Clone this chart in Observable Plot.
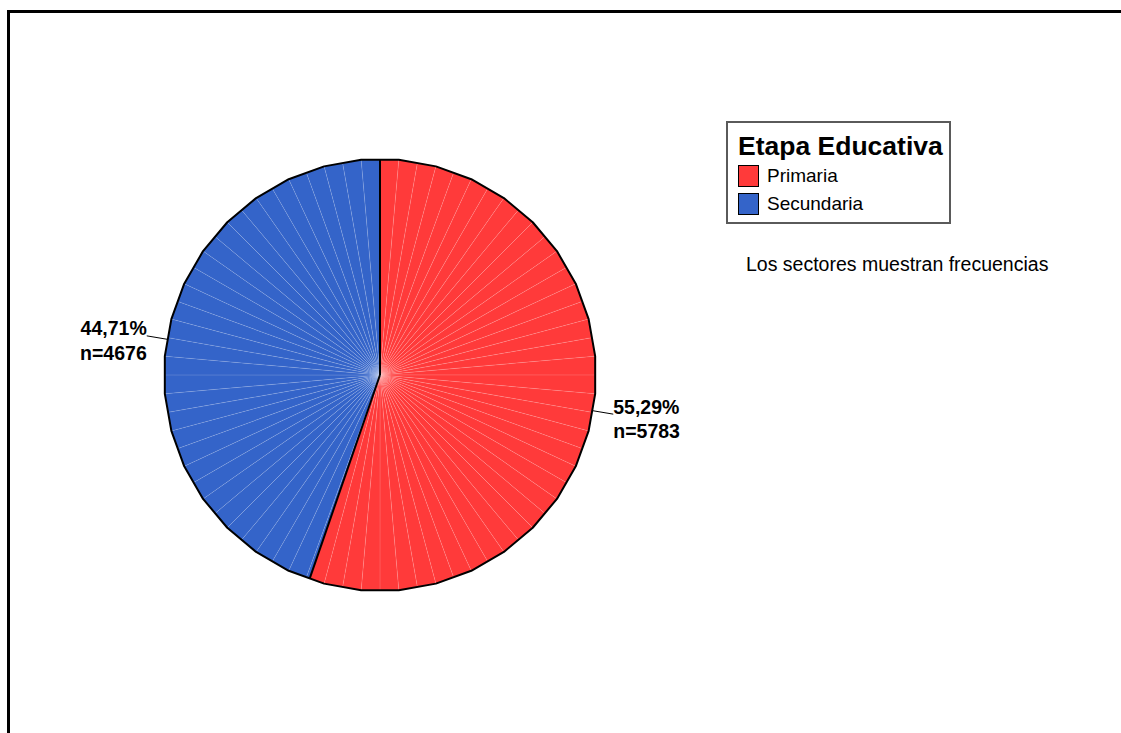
<!DOCTYPE html>
<html>
<head>
<meta charset="utf-8">
<script src="https://cdn.jsdelivr.net/npm/d3@7"></script>
<script src="https://cdn.jsdelivr.net/npm/@observablehq/plot@0.6"></script>
<style>
  html, body { margin: 0; padding: 0; background: #fff; width: 1121px; height: 733px; overflow: hidden; }
  body { position: relative; font-family: Arial, "Liberation Sans", sans-serif; }
  #chart { position: absolute; left: 0; top: 0; }
  #frame { position: absolute; left: 7px; top: 10px; width: 1300px; height: 900px;
           border-left: 3px solid #000; border-top: 3px solid #000; pointer-events: none; z-index: 3; }
  #legend { position: absolute; left: 726px; top: 121px; width: 221px; height: 99px;
            border: 2px solid #5a5a5a; background: #fff; z-index: 2; }
  #legend .title { position: absolute; left: 10px; top: 8px; font-weight: bold; font-size: 26.5px; line-height: 30px; white-space: nowrap; color: #000; }
  #legend .item { position: absolute; left: 10px; height: 23px; white-space: nowrap; }
  #legend .sw { position: absolute; left: 0; top: 0; width: 19px; height: 20px; border: 1.5px solid #000; }
  #legend .lbl { position: absolute; left: 29px; top: -1px; font-size: 19px; line-height: 23px; color: #000; }
  #note { position: absolute; left: 746px; top: 253px; font-size: 19.5px; line-height: 22px; white-space: nowrap; color: #000; z-index: 2; }
</style>
</head>
<body>
<div id="chart"></div>
<div id="legend"></div>
<div id="note"></div>
<div id="frame"></div>
<script>
// ---- data ----
const categories = ["Primaria", "Secundaria"];
const counts = [5783, 4676];
const percentLabels = ["55,29%", "44,71%"];
const colors = ["#ff3a3a", "#3464c9"];
const legendTitle = "Etapa Educativa";
const noteText = "Los sectores muestran frecuencias";

// ---- geometry (derived from data) ----
const total = d3.sum(counts);
const rad = d => d * Math.PI / 180;
// faceted (polygonal) pie outline: vertices every 10 degrees starting at 5 degrees
function polyR(deg) {
  const d = deg - 10 * Math.round(deg / 10);
  return Math.cos(rad(5)) / Math.cos(rad(d));
}
function pt(deg, r) {
  return { x: r * Math.sin(rad(deg)), y: -r * Math.cos(rad(deg)) };
}

const slices = [];
let acc = 0;
categories.forEach((c, i) => {
  const a0 = acc / total * 360;
  acc += counts[i];
  const a1 = acc / total * 360;
  slices.push({ cat: c, i, a0, a1, mid: (a0 + a1) / 2, count: counts[i], pct: percentLabels[i] });
});

// sub-wedges (triangles) for filled slices
const tri = [];
let tid = 0;
slices.forEach(s => {
  const br = [s.a0];
  for (let a = Math.ceil(s.a0 / 5 + 1e-9) * 5; a < s.a1 - 1e-9; a += 5) br.push(a);
  br.push(s.a1);
  for (let k = 0; k < br.length - 1; k++) {
    const p1 = pt(br[k], polyR(br[k]));
    const p2 = pt(br[k + 1], polyR(br[k + 1]));
    tri.push({ id: tid, cat: s.cat, x: 0, y: 0 });
    tri.push({ id: tid, cat: s.cat, x: p1.x, y: p1.y });
    tri.push({ id: tid, cat: s.cat, x: p2.x, y: p2.y });
    tid++;
  }
});

const outline = d3.range(36).map(k => pt(5 + 10 * k, 1));
const boundaries = slices.map(s => ({ ...pt(s.a0, polyR(s.a0)) }));
const leaders = slices.map(s => {
  const a = pt(s.mid, polyR(s.mid));
  const b = pt(s.mid, 1.095);
  return { x1: a.x, y1: a.y, x2: b.x, y2: b.y };
});
const labels = slices.map(s => ({ ...pt(s.mid, 1.095), text: s.pct + "\n" + "n=" + s.count }));

// ---- layout ----
const W = 1121, H = 733, R = 216, CX = 379.5, CY = 374.5;

const plot = Plot.plot({
  width: W, height: H, margin: 0,
  style: { background: "none", overflow: "visible" },
  x: { domain: [-CX / R, (W - CX) / R], range: [0, W], axis: null },
  y: { domain: [-CY / R, (H - CY) / R], range: [0, H], axis: null },
  color: { domain: categories, range: colors },
  marks: [
    Plot.line(tri, { x: "x", y: "y", z: "id", fill: "cat", stroke: "#ffffff", strokeOpacity: 0.18, strokeWidth: 0.8, curve: "linear-closed" }),
    Plot.link(boundaries, { x1: 0, y1: 0, x2: "x", y2: "y", stroke: "#000", strokeWidth: 2 }),
    Plot.line(outline, { x: "x", y: "y", curve: "linear-closed", stroke: "#000", strokeWidth: 2, fill: "none", strokeLinejoin: "round" }),
    Plot.link(leaders, { x1: "x1", y1: "y1", x2: "x2", y2: "y2", stroke: "#000", strokeWidth: 1 }),
    Plot.text(labels.filter(d => d.x >= 0), { x: "x", y: "y", text: "text", textAnchor: "start", lineAnchor: "middle", lineHeight: 1.25, dy: 4, fontSize: 19.5, fontWeight: "bold", fill: "#000", fontFamily: "Arial, 'Liberation Sans', sans-serif" }),
    Plot.text(labels.filter(d => d.x < 0), { x: "x", y: "y", text: "text", textAnchor: "end", lineAnchor: "middle", lineHeight: 1.25, dy: 4, fontSize: 19.5, fontWeight: "bold", fill: "#000", fontFamily: "Arial, 'Liberation Sans', sans-serif" })
  ]
});
document.getElementById("chart").appendChild(plot);

// legend
const lg = document.getElementById("legend");
const t = document.createElement("div");
t.className = "title"; t.textContent = legendTitle; lg.appendChild(t);
categories.forEach((c, i) => {
  const it = document.createElement("div");
  it.className = "item"; it.style.top = (42 + i * 28) + "px";
  const sw = document.createElement("div"); sw.className = "sw"; sw.style.background = colors[i];
  const lb = document.createElement("div"); lb.className = "lbl"; lb.textContent = c;
  it.appendChild(sw); it.appendChild(lb); lg.appendChild(it);
});
document.getElementById("note").textContent = noteText;
</script>
</body>
</html>
